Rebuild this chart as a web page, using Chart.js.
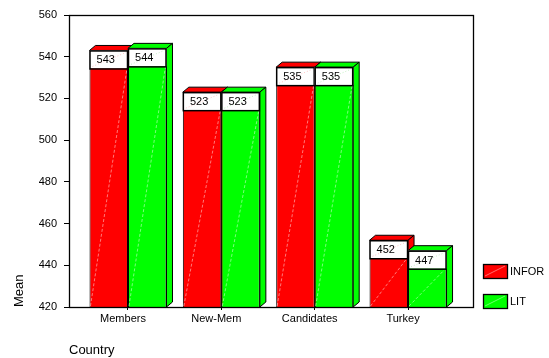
<!DOCTYPE html>
<html>
<head>
<meta charset="utf-8">
<script src="https://cdn.jsdelivr.net/npm/chart.js@4.4.1/dist/chart.umd.min.js"></script>
<style>
  html, body { margin: 0; padding: 0; background: #fff; }
  #wrap { width: 549px; height: 358px; }
</style>
</head>
<body>
<div id="wrap"><canvas id="c" width="549" height="358"></canvas></div>
<script>
// Mean score by country group
const categories = ['Members', 'New-Mem', 'Candidates', 'Turkey'];
const inforMeans = [543, 523, 535, 452];
const litMeans = [544, 523, 535, 447];
const yTicks = [420, 440, 460, 480, 500, 520, 540, 560];
const seriesNames = ['INFOR', 'LIT'];
const seriesColors = ['#ff0000', '#00ff00'];

const FONT = 'Arial, "Liberation Sans", sans-serif';
const DX = 6, DY = 5;          // extrusion of the 3D faces
const BOX_H = 18;              // height of the value box at the top of a bar

function poly(ctx, pts, fill) {
  ctx.beginPath();
  ctx.moveTo(pts[0][0], pts[0][1]);
  for (let i = 1; i < pts.length; i++) ctx.lineTo(pts[i][0], pts[i][1]);
  ctx.closePath();
  ctx.fillStyle = fill;
  ctx.fill();
  ctx.stroke();
}

function barGeom(chart, d, j) {
  const p = chart.getDatasetMeta(d).data[j].getProps(['x', 'y', 'base', 'width'], true);
  const base = Math.min(p.base, chart.chartArea.bottom);
  return { l: p.x - p.width / 2, r: p.x + p.width / 2, top: p.y, base: base, w: p.width };
}

const bars3d = {
  id: 'bars3d',
  beforeDatasetsDraw(chart) {
    const ctx = chart.ctx;
    ctx.save();
    ctx.lineWidth = 1;
    ctx.strokeStyle = '#000';
    const nd = chart.data.datasets.length;
    for (let j = 0; j < categories.length; j++) {
      for (let d = 0; d < nd; d++) {
        const g = barGeom(chart, d, j);
        const col = chart.data.datasets[d].backgroundColor;
        poly(ctx, [[g.l, g.top], [g.r, g.top], [g.r + DX, g.top - DY], [g.l + DX, g.top - DY]], col);
        poly(ctx, [[g.r, g.top], [g.r + DX, g.top - DY], [g.r + DX, g.base - DY], [g.r, g.base]], col);
      }
    }
    ctx.restore();
  },
  afterDatasetsDraw(chart) {
    const ctx = chart.ctx;
    const a = chart.chartArea;
    ctx.save();
    const nd = chart.data.datasets.length;
    for (let d = 0; d < nd; d++) {
      const tint = d === 0 ? 'rgba(255,190,190,0.8)' : 'rgba(190,255,190,0.8)';
      for (let j = 0; j < categories.length; j++) {
        const g = barGeom(chart, d, j);
        // faint shading diagonal across the front face
        ctx.strokeStyle = tint;
        ctx.lineWidth = 0.8;
        ctx.setLineDash([3, 2]);
        ctx.beginPath();
        ctx.moveTo(g.l + 1, g.base - 1);
        ctx.lineTo(g.r - 1, g.top + BOX_H);
        ctx.stroke();
        // value box
        ctx.setLineDash([]);
        ctx.fillStyle = '#fff';
        ctx.fillRect(g.l, g.top, g.w, BOX_H);
        ctx.strokeStyle = d === 0 ? 'rgba(255,150,150,0.7)' : 'rgba(150,230,150,0.7)';
        ctx.setLineDash([1, 2]);
        ctx.beginPath();
        ctx.moveTo(g.l + 3, g.top + BOX_H - 2);
        ctx.lineTo(g.r - 2, g.top + 2);
        ctx.stroke();
        ctx.setLineDash([]);
        ctx.strokeStyle = '#000';
        ctx.lineWidth = 1.5;
        ctx.strokeRect(g.l + 0.5, g.top + 0.5, g.w - 1, BOX_H);
        const v = chart.data.datasets[d].data[j].y;
        ctx.fillStyle = '#000';
        ctx.font = '11px ' + FONT;
        ctx.textAlign = 'center';
        ctx.textBaseline = 'middle';
        ctx.fillText(String(v), (g.l + g.r) / 2 - 3, g.top + BOX_H / 2 + 1);
      }
    }
    // plot frame
    ctx.strokeStyle = '#000';
    ctx.lineWidth = 1.3;
    ctx.strokeRect(Math.round(a.left) + 0.5, Math.round(a.top) + 0.5,
      Math.round(a.right - a.left), Math.round(a.bottom - a.top));
    ctx.restore();
  },
  afterDraw(chart) {
    // legend
    const ctx = chart.ctx;
    ctx.save();
    const items = [{ y: 264 }, { y: 294 }];
    items.forEach((it, i) => {
      const x = 483, w = 24, h = 14;
      ctx.fillStyle = seriesColors[i];
      ctx.fillRect(x, it.y, w, h);
      ctx.strokeStyle = i === 0 ? 'rgba(255,170,170,0.8)' : 'rgba(170,255,170,0.8)';
      ctx.lineWidth = 0.8;
      ctx.beginPath();
      ctx.moveTo(x + 2, it.y + h - 2);
      ctx.lineTo(x + w - 2, it.y + 2);
      ctx.stroke();
      ctx.strokeStyle = '#000';
      ctx.lineWidth = 1.3;
      ctx.strokeRect(x + 0.5, it.y + 0.5, w, h);
      ctx.fillStyle = '#000';
      ctx.font = '11px ' + FONT;
      ctx.textAlign = 'left';
      ctx.textBaseline = 'middle';
      ctx.fillText(seriesNames[i], x + w + 3, it.y + h / 2 + 1);
    });
    ctx.restore();
  }
};

const toPoints = arr => arr.map((v, i) => ({ x: i, y: v }));

new Chart(document.getElementById('c'), {
  type: 'bar',
  data: {
    datasets: [
      { label: seriesNames[0], data: toPoints(inforMeans), backgroundColor: seriesColors[0],
        borderColor: '#000', borderWidth: 1, borderSkipped: false },
      { label: seriesNames[1], data: toPoints(litMeans), backgroundColor: seriesColors[1],
        borderColor: '#000', borderWidth: 1, borderSkipped: false }
    ]
  },
  options: {
    responsive: false,
    animation: false,
    events: [],
    layout: { padding: { left: 0, right: 76, top: 15, bottom: 0 } },
    datasets: { bar: { categoryPercentage: 0.825, barPercentage: 1.0, grouped: true } },
    plugins: { legend: { display: false }, tooltip: { enabled: false } },
    scales: {
      x: {
        type: 'linear',
        offset: false,
        bounds: 'data',
        min: -0.632,
        max: 3.696,
        afterBuildTicks: s => { s.ticks = categories.map((_, i) => ({ value: i })); },
        afterFit: s => { s.height = 51; },
        grid: { display: true, drawOnChartArea: false, drawTicks: true, tickLength: 3,
                color: '#000', offset: false },
        border: { display: false },
        ticks: {
          callback: v => categories[v],
          color: '#000',
          font: { family: FONT, size: 11 },
          padding: 2,
          labelOffset: -5,
          maxRotation: 0,
          autoSkip: false
        },
        title: {
          display: true, text: 'Country', align: 'start', color: '#000',
          font: { family: FONT, size: 13 }, padding: { top: 0, bottom: 0 }
        }
      },
      y: {
        min: 420,
        max: 560,
        afterBuildTicks: s => { s.ticks = yTicks.map(v => ({ value: v })); },
        afterFit: s => { s.width = 69; },
        grid: { drawOnChartArea: false, drawTicks: true, tickLength: 5, color: '#000' },
        border: { display: false },
        ticks: { color: '#000', font: { family: FONT, size: 11 }, padding: 7 },
        title: {
          display: true, text: 'Mean', align: 'start', color: '#000',
          font: { family: FONT, size: 13 }, padding: { top: 12, bottom: 0 }
        }
      }
    }
  },
  plugins: [bars3d]
});
</script>
</body>
</html>
